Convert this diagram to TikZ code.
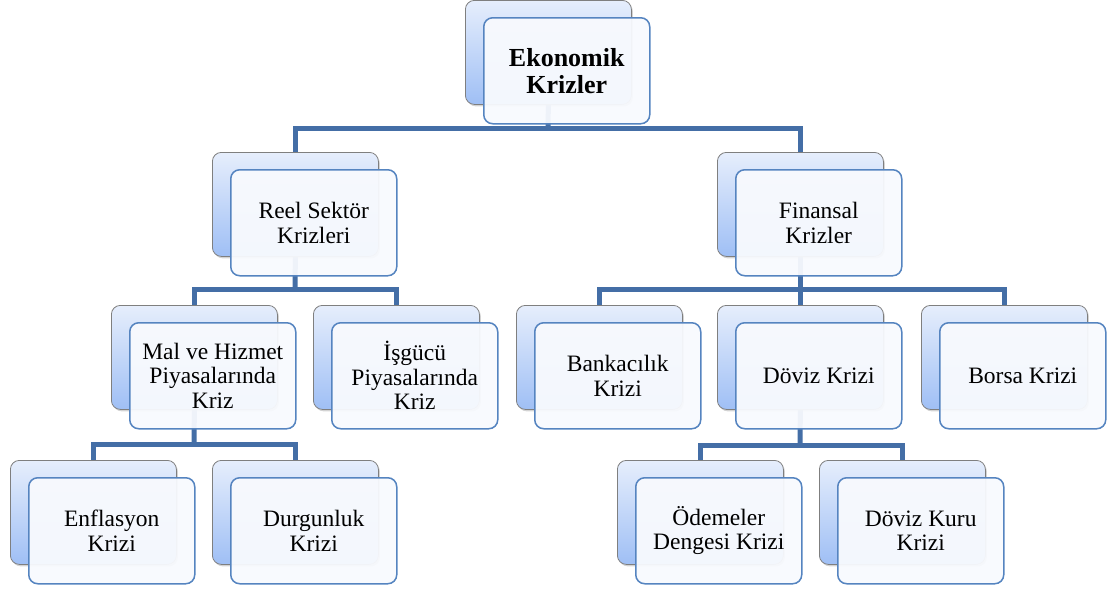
\documentclass[tikz,border=0pt]{standalone}
\usepackage{fontspec}
\setmainfont{Liberation Serif}
\usetikzlibrary{shadows,calc}
\definecolor{backtop}{HTML}{E6EEFC}
\definecolor{backbot}{HTML}{9FBFF5}
\definecolor{backdraw}{HTML}{7F7F7F}
\definecolor{frontdraw}{HTML}{5584C0}
\definecolor{frontfill}{HTML}{F8FAFE}
\definecolor{conncol}{HTML}{446EA6}
\pgfdeclarelayer{bg}
\pgfsetlayers{bg,main}
\tikzset{
 backbox/.style={rectangle, rounded corners=9pt, draw=backdraw, line width=0.8pt,
   top color=backtop, bottom color=backbot, minimum width=166pt, minimum height=104pt,
   anchor=north west, inner sep=0pt,
   drop shadow={opacity=0.35, shadow xshift=1.5pt, shadow yshift=-2pt}},
 frontbox/.style={rectangle, rounded corners=9pt, draw=frontdraw, line width=1.5pt,
   fill=frontfill, fill opacity=0.95, text opacity=1, minimum width=166pt,
   minimum height=106pt, anchor=north west, inner sep=2pt, align=center,
   font=\fontsize{23.5}{24.5}\selectfont},
 titlebox/.style={font=\fontsize{26}{27}\selectfont\bfseries},
 conn/.style={draw=conncol, line width=5pt},
}
\newcommand\kpair[5][]{%
 \node[backbox] (#2-b) at (#3,#4) {};
 \node[frontbox,#1] (#2) at (#3+18,#4+17) {#5};
}
\begin{document}
\begin{tikzpicture}[x=1pt,y=-1pt]
\useasboundingbox (0,0) rectangle (1112,589);
\kpair[titlebox]{top}{465}{0}{Ekonomik\\Krizler}
\kpair{reel}{212}{152}{Reel Sektör\\Krizleri}
\kpair{fin}{717}{152}{Finansal\\Krizler}
\kpair{mal}{111}{305}{Mal ve Hizmet\\Piyasalarında\\Kriz}
\kpair{isg}{313}{305}{İşgücü\\Piyasalarında\\Kriz}
\kpair{bank}{516}{305}{Bankacılık\\Krizi}
\kpair{doviz}{717}{305}{Döviz Krizi}
\kpair{borsa}{921}{305}{Borsa Krizi}
\kpair{enf}{10}{460}{Enflasyon\\Krizi}
\kpair{durg}{212}{460}{Durgunluk\\Krizi}
\kpair{odem}{617}{460}{Ödemeler\\Dengesi Krizi}
\kpair{dkur}{819}{460}{Döviz Kuru\\Krizi}
\coordinate (bus0) at (548,128);
\coordinate (bus1L) at (295,289);
\coordinate (bus1R) at (800,289);
\coordinate (bus2L) at (194,444);
\coordinate (bus2R) at (800,445);
\begin{pgfonlayer}{bg}
\draw[conn] (top-b.south) -- (bus0);
\draw[conn] (reel-b.north) |- (bus0) -| (fin-b.north);
\draw[conn] (reel-b.south) -- (bus1L);
\draw[conn] (mal-b.north) |- (bus1L) -| (isg-b.north);
\draw[conn] (fin-b.south) -- (doviz-b.north);
\draw[conn] (bank-b.north) |- (bus1R) -| (borsa-b.north);
\draw[conn] (mal-b.south) -- (bus2L);
\draw[conn] (enf-b.north) |- (bus2L) -| (durg-b.north);
\draw[conn] (doviz-b.south) -- (bus2R);
\draw[conn] (odem-b.north) |- (bus2R) -| (dkur-b.north);
\end{pgfonlayer}
\end{tikzpicture}
\end{document}
